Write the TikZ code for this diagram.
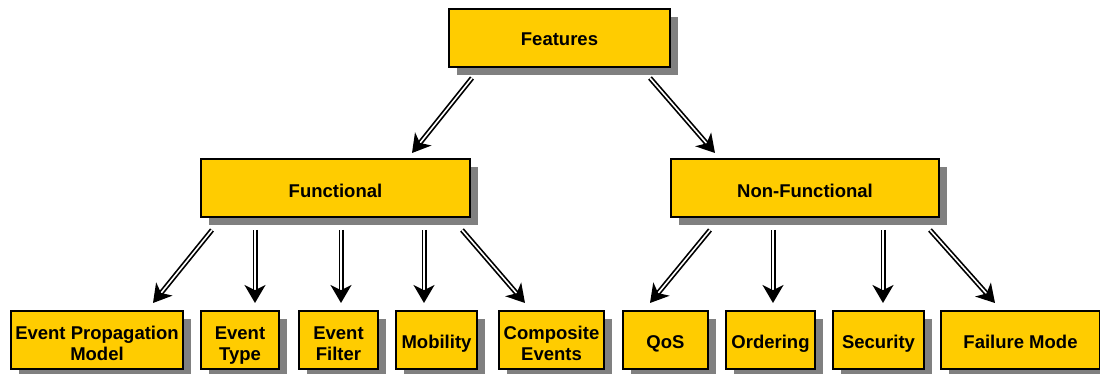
\documentclass[tikz,border=0pt]{standalone}
\usepackage{fontspec}
\setmainfont{Liberation Sans}
\usetikzlibrary{arrows.meta,shadows}
\definecolor{boxfill}{HTML}{FFCC00}
\definecolor{shadowgray}{HTML}{808080}
% box label: centred lines, lowered slightly without changing the box size
\newcommand{\boxlabel}[2][2pt]{\raisebox{-#1}[\height][\depth]{\begin{tabular}{@{}c@{}}#2\end{tabular}}}
\begin{document}
\begin{tikzpicture}[x=0.5pt,y=-0.5pt,
  feature/.style={draw=black, line width=0.8pt, fill=boxfill,
    inner sep=0pt, outer sep=0pt, minimum height=29pt,
    font=\fontsize{9.25}{10.5}\selectfont\bfseries,
    drop shadow={shadow xshift=4pt, shadow yshift=-4pt, fill=shadowgray, opacity=1}},
  arr/.style={draw=black, line width=0.85pt, double=white, double distance=0.8pt,
    -{Stealth[length=9pt,width=10.5pt,inset=2.6pt]}}]
\useasboundingbox (0,0) rectangle (1100,374);

% top level
\node[feature, minimum width=110.5pt] (feat) at (559.5,38) {\boxlabel[1.8pt]{Features}};

% second level
\node[feature, minimum width=134.5pt] (func) at (335.5,188) {\boxlabel[2.6pt]{Functional}};
\node[feature, minimum width=134pt] (nonf) at (805,188) {\boxlabel[2.6pt]{Non-Functional}};

% leaves
\node[feature, minimum width=86pt] (epm) at (97,340) {\boxlabel[3pt]{Event Propagation\\Model}};
\node[feature, minimum width=39pt] (etype) at (240,340) {\boxlabel[3pt]{Event\\Type}};
\node[feature, minimum width=39.5pt] (efilt) at (338.5,340) {\boxlabel[3pt]{Event\\Filter}};
\node[feature, minimum width=40.5pt] (mob) at (436.5,340) {\boxlabel{Mobility}};
\node[feature, minimum width=52.5pt] (comp) at (551.5,340) {\boxlabel[3pt]{Composite\\Events}};
\node[feature, minimum width=42.5pt] (qos) at (665.5,340) {\boxlabel{QoS}};
\node[feature, minimum width=44.5pt] (ord) at (770.5,340) {\boxlabel{Ordering}};
\node[feature, minimum width=45.5pt] (sec) at (878.5,340) {\boxlabel{Security}};
\node[feature, minimum width=79.5pt] (fail) at (1020.5,340) {\boxlabel{Failure Mode}};

% connectors
\draw[arr] ([shift={(23,11)}]feat.south west) -- ([shift={(76.5,-6)}]func.north);
\draw[arr] ([shift={(-20,11)}]feat.south east) -- ([shift={(-90,-6)}]nonf.north);

\draw[arr] ([shift={(11,13)}]func.south west) -- ([shift={(56,-8)}]epm.north);
\draw[arr] ([shift={(54,13)}]func.south west) -- ([shift={(15,-8)}]etype.north);
\draw[arr] ([shift={(140,13)}]func.south west) -- ([shift={(2.5,-8)}]efilt.north);
\draw[arr] ([shift={(223,13)}]func.south west) -- ([shift={(-12.5,-8)}]mob.north);
\draw[arr] ([shift={(261,13)}]func.south west) -- ([shift={(-26.5,-8)}]comp.north);

\draw[arr] ([shift={(39,13)}]nonf.south west) -- ([shift={(-15.5,-8)}]qos.north);
\draw[arr] ([shift={(102,13)}]nonf.south west) -- ([shift={(2.5,-8)}]ord.north);
\draw[arr] ([shift={(212,13)}]nonf.south west) -- ([shift={(4.5,-8)}]sec.north);
\draw[arr] ([shift={(259,13)}]nonf.south west) -- ([shift={(-25.5,-8)}]fail.north);
\end{tikzpicture}
\end{document}
